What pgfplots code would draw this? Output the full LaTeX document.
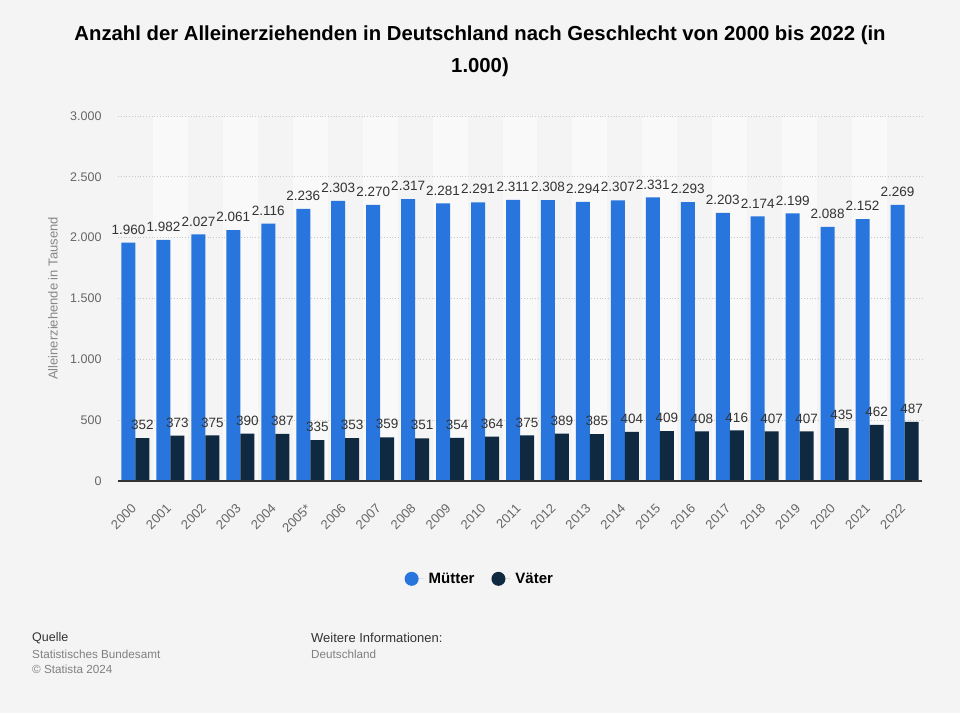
\documentclass[border=0pt]{standalone}
\usepackage{pgfplots}
\pgfplotsset{compat=1.18}
\usepackage{fontspec}
\setmainfont{Liberation Sans}
\definecolor{bg}{HTML}{F4F4F4}
\definecolor{band}{HTML}{F9F9F9}
\definecolor{muetter}{HTML}{2876DD}
\definecolor{vaeter}{HTML}{0F2940}
\definecolor{tick}{HTML}{666666}
\definecolor{ylab}{HTML}{888888}
\definecolor{lbl}{HTML}{333333}
\definecolor{gridc}{HTML}{C8C8C8}
\begin{document}
\begin{tikzpicture}[x=1pt,y=1pt]
\fill[bg] (0,0) rectangle (960,713);
\useasboundingbox (0,0) rectangle (960,713);
\node[align=center, font=\bfseries\fontsize{20.3}{32}\selectfont, text=black] at (480,662) {Anzahl der Alleinerziehenden in Deutschland nach Geschlecht von 2000 bis 2022 (in\\1.000)};
\begin{axis}[
  at={(118pt,232pt)}, anchor=south west,
  scale only axis, width=804pt, height=365pt,
  xmin=-0.5, xmax=22.5, ymin=0, ymax=3000,
  ybar=0pt, bar width=14pt,
  axis line style={draw=none},
  tick style={draw=none},
  ytick={0,500,...,3000},
  xtick={0,...,22},
  xticklabels={2000,2001,2002,2003,2004,2005*,2006,2007,2008,2009,2010,2011,2012,2013,2014,2015,2016,2017,2018,2019,2020,2021,2022},
  /pgf/number format/.cd, 1000 sep={.}, assume math mode=true, /pgfplots/.cd,
  scaled y ticks=false,
  yticklabel style={font=\fontsize{12.5}{12}\selectfont, text=tick, xshift=-13pt},
  xticklabel style={font=\fontsize{13}{13}\selectfont, text=tick, rotate=45, anchor=north east, inner sep=1pt, yshift=-8pt, xshift=-15pt},
  ylabel={Alleinerziehende in Tausend},
  ylabel style={font=\fontsize{13}{13}\selectfont, text=ylab, at={(axis description cs:-0.081,0.5)}, anchor=center},
  nodes near coords={\pgfmathprintnumber{\pgfplotspointmeta}},
  nodes near coords style={font=\fontsize{13.5}{13.5}\selectfont, text=lbl, anchor=south, inner sep=3pt, yshift=5pt},
  clip=false,
  legend columns=2,
  legend style={at={(axis description cs:0.450,-0.268)}, anchor=center, draw=none, fill=none,
    font=\bfseries\fontsize{15}{15}\selectfont, column sep=15pt, /tikz/every odd column/.style={column sep=3pt}},
]
\foreach \a/\b in {0.5/1.5,2.5/3.5,4.5/5.5,6.5/7.5,8.5/9.5,10.5/11.5,12.5/13.5,14.5/15.5,16.5/17.5,18.5/19.5,20.5/21.5}{
  \edef\tmp{\noexpand\fill[band] (axis cs:\a,0) rectangle (axis cs:\b,3000);}\tmp
}
\foreach \v in {500,1000,1500,2000,2500,3000}{
  \edef\tmp{\noexpand\draw[gridc, dotted, line width=0.8pt] (axis cs:-0.5,\v) -- (axis cs:22.5,\v);}\tmp
}
\addplot[fill=muetter, draw=none, legend image code/.code={\fill[muetter] (0pt,0pt) circle (7pt); \path (0pt,0pt) -- (12pt,0pt);}] coordinates {
(0,1960) (1,1982) (2,2027) (3,2061) (4,2116) (5,2236) (6,2303) (7,2270) (8,2317) (9,2281) (10,2291) (11,2311) (12,2308) (13,2294) (14,2307) (15,2331) (16,2293) (17,2203) (18,2174) (19,2199) (20,2088) (21,2152) (22,2269)};
\addlegendentry{Mütter}
\addplot[fill=vaeter, draw=none, legend image code/.code={\fill[vaeter] (0pt,0pt) circle (7pt); \path (0pt,0pt) -- (12pt,0pt);}] coordinates {
(0,352) (1,373) (2,375) (3,390) (4,387) (5,335) (6,353) (7,359) (8,351) (9,354) (10,364) (11,375) (12,389) (13,385) (14,404) (15,409) (16,408) (17,416) (18,407) (19,407) (20,435) (21,462) (22,487)};
\addlegendentry{Väter}
\draw[lbl, line width=1.5pt] (axis cs:-0.5,0) -- (axis cs:22.5,0);
\end{axis}
\node[anchor=west, inner sep=0pt, font=\fontsize{12.5}{12}\selectfont, text=lbl] at (32,75) {Quelle};
\node[anchor=west, inner sep=0pt, font=\fontsize{11.7}{11}\selectfont, text=gray] at (32,59) {Statistisches Bundesamt};
\node[anchor=west, inner sep=0pt, font=\fontsize{11.7}{11}\selectfont, text=gray] at (32,44) {© Statista 2024};
\node[anchor=west, inner sep=0pt, font=\fontsize{13}{12}\selectfont, text=lbl] at (311,75) {Weitere Informationen:};
\node[anchor=west, inner sep=0pt, font=\fontsize{11.7}{11}\selectfont, text=gray] at (311,59) {Deutschland};
\end{tikzpicture}
\end{document}
